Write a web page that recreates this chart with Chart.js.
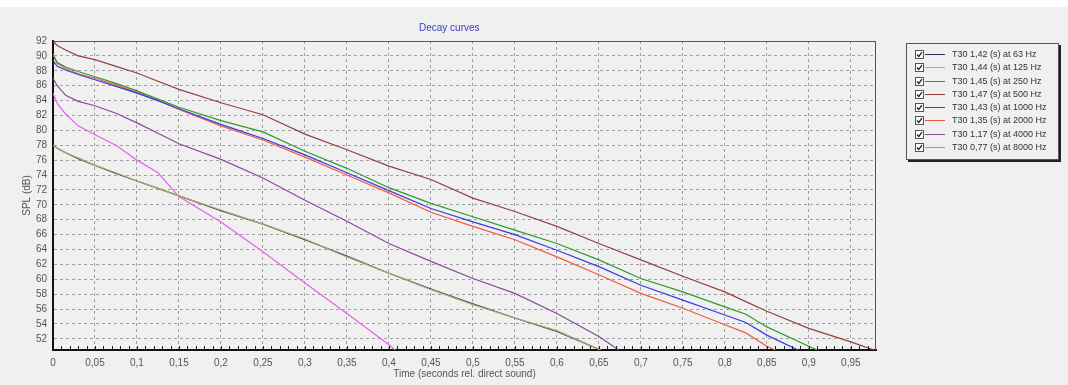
<!DOCTYPE html>
<html>
<head>
<meta charset="utf-8">
<script src="https://cdn.jsdelivr.net/npm/chart.js@4/dist/chart.umd.min.js"></script>
<style>
html, body { margin: 0; padding: 0; background: #f0f0f0; }
#wrap { position: relative; width: 1068px; height: 385px; overflow: hidden; font-family: "Liberation Sans", Arial, sans-serif; }
#topband { position: absolute; left: 0; top: 0; width: 1068px; height: 7px; background: #fff; }
#title { position: absolute; left: 419px; top: 22px; font-size: 10px; color: #3a3ac8; }
#legend { position: absolute; left: 906px; top: 43px; width: 153px; height: 117px; border: 1px solid #555; box-shadow: 2px 2px 0 #222; box-sizing: border-box; padding-top: 4px; }
.row { position: relative; height: 13.3px; font-size: 9px; color: #333; }
.row .cb { position: absolute; left: 8px; top: 2px; width: 7px; height: 7px; border: 1px solid #555; background: #fff; }
.row .ln { position: absolute; left: 18px; top: 6px; width: 20px; height: 1px; }
.row .tx { position: absolute; left: 45px; top: 1px; white-space: nowrap; }
canvas { position: absolute; left: 0; top: 0; }
</style>
</head>
<body>
<div id="wrap">
  <div id="topband"></div>
  <canvas id="decayChart" width="1068" height="385"></canvas>
  <div id="title">Decay curves</div>
  <div id="legend"></div>
</div>
<script>
// time axis (s), shared by all curves
const times = [0, 0.005, 0.015, 0.03, 0.05, 0.075, 0.1, 0.125, 0.15, 0.2, 0.25, 0.3, 0.35, 0.4, 0.45, 0.5, 0.55, 0.6, 0.65, 0.7, 0.75, 0.8, 0.825, 0.85, 0.9, 0.95, 1.0];

// SPL (dB) per band
const hz63   = [78.0, 77.6, 77.0, 76.2, 75.3, 74.2, 73.2, 72.2, 71.2, 69.2, 67.4, 65.3, 63.1, 60.8, 58.7, 56.7, 54.8, 53.0, 50.6, 48.0, null, null, null, null, null, null, null];
const hz125  = [78.0, 77.6, 77.0, 76.3, 75.3, 74.3, 73.2, 72.2, 71.2, 69.3, 67.4, 65.4, 63.0, 60.8, 58.6, 56.6, 54.8, 53.1, 50.6, 48.0, null, null, null, null, null, null, null];
const hz250  = [90.1, 89.1, 88.5, 87.9, 87.2, 86.3, 85.3, 84.2, 83.1, 81.3, 79.8, 77.2, 74.9, 72.3, 70.2, 68.4, 66.6, 64.8, 62.6, 60.1, 58.3, 56.3, 55.3, 53.6, 51.0, 48.5, null];
const hz500  = [92.0, 91.4, 90.8, 90.0, 89.5, 88.6, 87.7, 86.6, 85.5, 83.7, 82.1, 79.5, 77.4, 75.2, 73.4, 70.9, 69.1, 67.1, 64.8, 62.6, 60.4, 58.3, 57.0, 55.7, 53.4, 51.6, 49.6];
const hz1000 = [89.4, 88.6, 88.1, 87.5, 86.8, 85.9, 85.0, 84.0, 82.9, 80.8, 78.9, 76.7, 74.3, 71.9, 69.5, 67.7, 66.0, 63.9, 61.7, 59.2, 57.2, 55.2, 54.2, 52.5, 49.8, null, null];
const hz2000 = [90.3, 89.0, 88.3, 87.6, 87.0, 86.1, 85.1, 84.0, 82.8, 80.6, 78.7, 76.4, 74.0, 71.6, 69.0, 67.1, 65.3, 63.0, 60.6, 58.1, 56.1, 53.9, 52.8, 51.0, 48.5, null, null];
const hz4000 = [87.0, 86.0, 84.7, 83.9, 83.3, 82.3, 81.0, 79.6, 78.2, 76.1, 73.6, 70.6, 67.8, 64.8, 62.4, 60.1, 58.1, 55.4, 52.3, 48.5, null, null, null, null, null, null, null];
const hz8000 = [85.0, 83.6, 82.2, 80.6, 79.4, 78.0, 76.0, 74.3, 71.1, 67.7, 63.7, 59.5, 55.4, 51.2, 46.5, null, null, null, null, null, null, null, null, null, null, null, null];

const labels = [
    'T30 1,42 (s) at 63 Hz',
    'T30 1,44 (s) at 125 Hz',
    'T30 1,45 (s) at 250 Hz',
    'T30 1,47 (s) at 500 Hz',
    'T30 1,43 (s) at 1000 Hz',
    'T30 1,35 (s) at 2000 Hz',
    'T30 1,17 (s) at 4000 Hz',
    'T30 0,77 (s) at 8000 Hz'
];
const colors = ['#30305a', '#b0ad6a', '#2e9a2e', '#964040', '#3a3ae0', '#f05a40', '#8a4a9a', '#e860e8'];
const series = [hz63, hz125, hz250, hz500, hz1000, hz2000, hz4000, hz8000];

const datasets = series.map((values, i) => ({
    label: labels[i],
    data: values.map((v, j) => ({ x: times[j], y: v })),
    borderColor: colors[i],
    borderWidth: 1.2,
    pointRadius: 0,
    fill: false,
    order: i === 0 ? 1 : 0
}));

// frame on top/right and small ticks along the time axis
const framePlugin = {
    id: 'frame',
    afterDatasetsDraw(chart) {
        const { ctx, chartArea: a, scales } = chart;
        ctx.save();
        ctx.lineWidth = 1;
        ctx.strokeStyle = '#555';
        ctx.beginPath();
        ctx.moveTo(a.left, a.top + 0.5);
        ctx.lineTo(a.right, a.top + 0.5);
        ctx.moveTo(a.right - 0.5, a.top);
        ctx.lineTo(a.right - 0.5, a.bottom);
        ctx.stroke();
        ctx.strokeStyle = '#222';
        ctx.beginPath();
        for (let k = 1; k < 98; k++) {
            const px = Math.round(scales.x.getPixelForValue(k / 100)) + 0.5;
            ctx.moveTo(px, a.bottom - 1);
            ctx.lineTo(px, a.bottom - 4);
        }
        ctx.stroke();
        ctx.restore();
    }
};

const tickFont = { family: '"Liberation Sans", Arial, sans-serif', size: 10 };

new Chart(document.getElementById('decayChart'), {
    type: 'line',
    data: { datasets: datasets },
    options: {
        responsive: false,
        animation: false,
        layout: { padding: { left: 0, right: 192, top: 41, bottom: 0 } },
        plugins: {
            legend: { display: false },
            tooltip: { enabled: false },
            title: { display: false }
        },
        scales: {
            x: {
                type: 'linear',
                min: 0,
                max: 0.98,
                afterFit: s => { s.height = 35; },
                ticks: {
                    stepSize: 0.05,
                    includeBounds: false,
                    maxRotation: 0,
                    autoSkip: false,
                    padding: 7,
                    color: '#555',
                    font: tickFont,
                    callback: v => String(Math.round(v * 100) / 100).replace('.', ',')
                },
                grid: { color: '#a0a0a0', lineWidth: 1, drawTicks: false },
                border: { color: '#111', width: 2, dash: [3, 3] },
                title: {
                    display: true,
                    text: 'Time (seconds rel. direct sound)',
                    color: '#555',
                    font: tickFont,
                    padding: { top: 0, bottom: 5 }
                }
            },
            y: {
                min: 50.5,
                max: 92,
                afterFit: s => { s.width = 53; },
                ticks: {
                    stepSize: 2,
                    includeBounds: false,
                    padding: 6,
                    color: '#555',
                    font: tickFont
                },
                grid: { color: '#a0a0a0', lineWidth: 1, drawTicks: false },
                border: { color: '#111', width: 2, dash: [3, 3] },
                title: {
                    display: true,
                    text: 'SPL (dB)',
                    color: '#555',
                    font: tickFont,
                    padding: { top: 21, bottom: 0 }
                }
            }
        }
    },
    plugins: [framePlugin]
});

// legend box
const legendEl = document.getElementById('legend');
labels.forEach((text, i) => {
    const row = document.createElement('div');
    row.className = 'row';
    row.innerHTML =
        '<span class="cb"><svg width="7" height="7" viewBox="0 0 7 7" style="position:absolute;left:0;top:0">' +
        '<polyline points="1,3.5 2.8,5.5 6,1.2" fill="none" stroke="#222" stroke-width="1.3"/></svg></span>' +
        `<span class="ln" style="background:${colors[i]}"></span>` +
        `<span class="tx">${text}</span>`;
    legendEl.appendChild(row);
});
</script>
</body>
</html>
